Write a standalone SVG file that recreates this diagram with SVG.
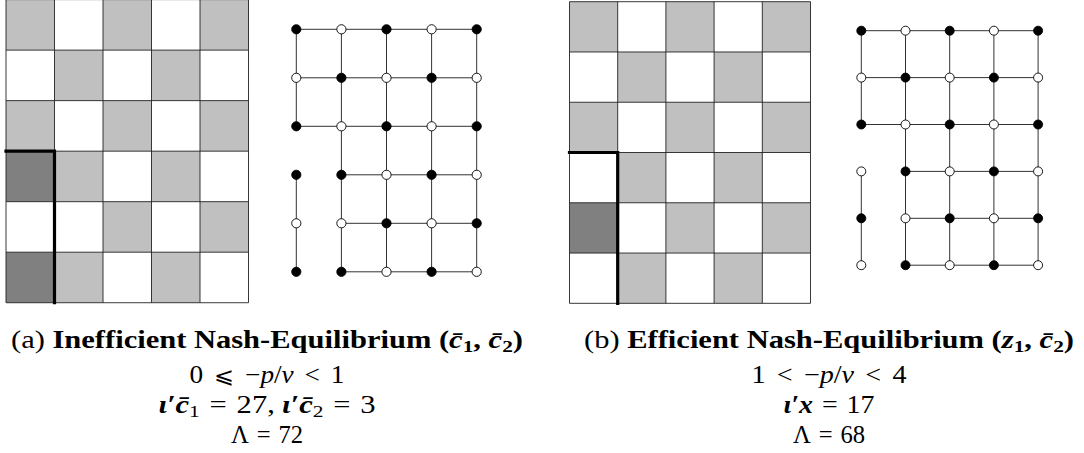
<svg xmlns="http://www.w3.org/2000/svg" width="1084" height="453" viewBox="0 0 1084 453">
<style>
.g{fill:#c0c0c0}
.d{fill:#808080}
.gl{fill:none;stroke:#222;stroke-width:0.9}
.thick{fill:none;stroke:#000;stroke-width:3.2;stroke-linecap:square}
.e{fill:none;stroke:#333;stroke-width:1}
.b{fill:#000;stroke:#000;stroke-width:0.9}
.w{fill:#fff;stroke:#000;stroke-width:0.9}
.t{font-family:"Liberation Serif","DejaVu Serif",serif;font-size:25px;fill:#000}
.bf{font-weight:bold}
.it{font-style:italic}
.bi{font-weight:bold;font-style:italic}
.rel{font-family:"DejaVu Serif","DejaVu Sans",serif;font-weight:normal;font-size:22px}
</style>
<rect width="1084" height="453" fill="#fff"/>

<!-- Left board -->
<g id="board-a" transform="translate(6,-0.4)">
<rect x="0" y="0" width="48.5" height="50.52" class="g"/>
<rect x="97" y="0" width="48.5" height="50.52" class="g"/>
<rect x="194" y="0" width="48.5" height="50.52" class="g"/>
<rect x="48.5" y="50.52" width="48.5" height="50.52" class="g"/>
<rect x="145.5" y="50.52" width="48.5" height="50.52" class="g"/>
<rect x="0" y="101.04" width="48.5" height="50.52" class="g"/>
<rect x="97" y="101.04" width="48.5" height="50.52" class="g"/>
<rect x="194" y="101.04" width="48.5" height="50.52" class="g"/>
<rect x="0" y="151.56" width="48.5" height="50.52" class="d"/>
<rect x="48.5" y="151.56" width="48.5" height="50.52" class="g"/>
<rect x="145.5" y="151.56" width="48.5" height="50.52" class="g"/>
<rect x="97" y="202.08" width="48.5" height="50.52" class="g"/>
<rect x="194" y="202.08" width="48.5" height="50.52" class="g"/>
<rect x="0" y="252.6" width="48.5" height="50.52" class="d"/>
<rect x="48.5" y="252.6" width="48.5" height="50.52" class="g"/>
<rect x="145.5" y="252.6" width="48.5" height="50.52" class="g"/>
<path class="gl" d="M0,0H242.5M0,50.52H242.5M0,101.04H242.5M0,151.56H242.5M0,202.08H242.5M0,252.6H242.5M0,303.12H242.5M0,0V303.12M48.5,0V303.12M97,0V303.12M145.5,0V303.12M194,0V303.12M242.5,0V303.12"/>
<path class="thick" d="M0,151.56H48.5V303.12"/>
</g>

<!-- Right board -->
<g id="board-b" transform="translate(569.5,1.7)">
<rect x="0" y="0" width="48.2" height="50.27" class="g"/>
<rect x="96.4" y="0" width="48.2" height="50.27" class="g"/>
<rect x="192.8" y="0" width="48.2" height="50.27" class="g"/>
<rect x="48.2" y="50.27" width="48.2" height="50.27" class="g"/>
<rect x="144.6" y="50.27" width="48.2" height="50.27" class="g"/>
<rect x="0" y="100.54" width="48.2" height="50.27" class="g"/>
<rect x="96.4" y="100.54" width="48.2" height="50.27" class="g"/>
<rect x="192.8" y="100.54" width="48.2" height="50.27" class="g"/>
<rect x="48.2" y="150.81" width="48.2" height="50.27" class="g"/>
<rect x="144.6" y="150.81" width="48.2" height="50.27" class="g"/>
<rect x="0" y="201.08" width="48.2" height="50.27" class="d"/>
<rect x="96.4" y="201.08" width="48.2" height="50.27" class="g"/>
<rect x="192.8" y="201.08" width="48.2" height="50.27" class="g"/>
<rect x="48.2" y="251.35" width="48.2" height="50.27" class="g"/>
<rect x="144.6" y="251.35" width="48.2" height="50.27" class="g"/>
<path class="gl" d="M0,0H241M0,50.27H241M0,100.54H241M0,150.81H241M0,201.08H241M0,251.35H241M0,301.62H241M0,0V301.62M48.2,0V301.62M96.4,0V301.62M144.6,0V301.62M192.8,0V301.62M241,0V301.62"/>
<path class="thick" d="M0,150.81H48.2V301.62"/>
</g>

<!-- Connectors -->
<g id="connectors">
<path class="e" d="M296.3,29.3H476.7M296.3,77.8H476.7M296.3,126.3H476.7M341.4,174.8H476.7M341.4,223.3H476.7M341.4,271.8H476.7M296.3,29.3V126.3M296.3,174.8V271.8M341.4,29.3V271.8M386.5,29.3V271.8M431.6,29.3V271.8M476.7,29.3V271.8"/>
<path class="e" d="M861.3,30.7H1038.1M861.3,77.6H1038.1M861.3,124.5H1038.1M905.5,171.4H1038.1M905.5,218.3H1038.1M905.5,265.2H1038.1M861.3,30.7V124.5M861.3,171.4V265.2M905.5,30.7V265.2M949.7,30.7V265.2M993.9,30.7V265.2M1038.1,30.7V265.2"/>
</g>

<!-- Left graph nodes -->
<g id="graph-a">
<g id="a00"><circle cx="296.3" cy="29.3" r="4.6" class="b"/></g>
<g id="a01"><circle cx="341.4" cy="29.3" r="4.6" class="w"/></g>
<g id="a02"><circle cx="386.5" cy="29.3" r="4.6" class="b"/></g>
<g id="a03"><circle cx="431.6" cy="29.3" r="4.6" class="w"/></g>
<g id="a04"><circle cx="476.7" cy="29.3" r="4.6" class="b"/></g>
<g id="a10"><circle cx="296.3" cy="77.8" r="4.6" class="w"/></g>
<g id="a11"><circle cx="341.4" cy="77.8" r="4.6" class="b"/></g>
<g id="a12"><circle cx="386.5" cy="77.8" r="4.6" class="w"/></g>
<g id="a13"><circle cx="431.6" cy="77.8" r="4.6" class="b"/></g>
<g id="a14"><circle cx="476.7" cy="77.8" r="4.6" class="w"/></g>
<g id="a20"><circle cx="296.3" cy="126.3" r="4.6" class="b"/></g>
<g id="a21"><circle cx="341.4" cy="126.3" r="4.6" class="w"/></g>
<g id="a22"><circle cx="386.5" cy="126.3" r="4.6" class="b"/></g>
<g id="a23"><circle cx="431.6" cy="126.3" r="4.6" class="w"/></g>
<g id="a24"><circle cx="476.7" cy="126.3" r="4.6" class="b"/></g>
<g id="a30"><circle cx="296.3" cy="174.8" r="4.6" class="b"/></g>
<g id="a31"><circle cx="341.4" cy="174.8" r="4.6" class="b"/></g>
<g id="a32"><circle cx="386.5" cy="174.8" r="4.6" class="w"/></g>
<g id="a33"><circle cx="431.6" cy="174.8" r="4.6" class="b"/></g>
<g id="a34"><circle cx="476.7" cy="174.8" r="4.6" class="w"/></g>
<g id="a40"><circle cx="296.3" cy="223.3" r="4.6" class="w"/></g>
<g id="a41"><circle cx="341.4" cy="223.3" r="4.6" class="w"/></g>
<g id="a42"><circle cx="386.5" cy="223.3" r="4.6" class="b"/></g>
<g id="a43"><circle cx="431.6" cy="223.3" r="4.6" class="w"/></g>
<g id="a44"><circle cx="476.7" cy="223.3" r="4.6" class="b"/></g>
<g id="a50"><circle cx="296.3" cy="271.8" r="4.6" class="b"/></g>
<g id="a51"><circle cx="341.4" cy="271.8" r="4.6" class="b"/></g>
<g id="a52"><circle cx="386.5" cy="271.8" r="4.6" class="w"/></g>
<g id="a53"><circle cx="431.6" cy="271.8" r="4.6" class="b"/></g>
<g id="a54"><circle cx="476.7" cy="271.8" r="4.6" class="w"/></g>
</g>

<!-- Right graph nodes -->
<g id="graph-b">
<g id="b00"><circle cx="861.3" cy="30.7" r="4.5" class="b"/></g>
<g id="b01"><circle cx="905.5" cy="30.7" r="4.5" class="w"/></g>
<g id="b02"><circle cx="949.7" cy="30.7" r="4.5" class="b"/></g>
<g id="b03"><circle cx="993.9" cy="30.7" r="4.5" class="w"/></g>
<g id="b04"><circle cx="1038.1" cy="30.7" r="4.5" class="b"/></g>
<g id="b10"><circle cx="861.3" cy="77.6" r="4.5" class="w"/></g>
<g id="b11"><circle cx="905.5" cy="77.6" r="4.5" class="b"/></g>
<g id="b12"><circle cx="949.7" cy="77.6" r="4.5" class="w"/></g>
<g id="b13"><circle cx="993.9" cy="77.6" r="4.5" class="b"/></g>
<g id="b14"><circle cx="1038.1" cy="77.6" r="4.5" class="w"/></g>
<g id="b20"><circle cx="861.3" cy="124.5" r="4.5" class="b"/></g>
<g id="b21"><circle cx="905.5" cy="124.5" r="4.5" class="w"/></g>
<g id="b22"><circle cx="949.7" cy="124.5" r="4.5" class="b"/></g>
<g id="b23"><circle cx="993.9" cy="124.5" r="4.5" class="w"/></g>
<g id="b24"><circle cx="1038.1" cy="124.5" r="4.5" class="b"/></g>
<g id="b30"><circle cx="861.3" cy="171.4" r="4.5" class="w"/></g>
<g id="b31"><circle cx="905.5" cy="171.4" r="4.5" class="b"/></g>
<g id="b32"><circle cx="949.7" cy="171.4" r="4.5" class="w"/></g>
<g id="b33"><circle cx="993.9" cy="171.4" r="4.5" class="b"/></g>
<g id="b34"><circle cx="1038.1" cy="171.4" r="4.5" class="w"/></g>
<g id="b40"><circle cx="861.3" cy="218.3" r="4.5" class="b"/></g>
<g id="b41"><circle cx="905.5" cy="218.3" r="4.5" class="w"/></g>
<g id="b42"><circle cx="949.7" cy="218.3" r="4.5" class="b"/></g>
<g id="b43"><circle cx="993.9" cy="218.3" r="4.5" class="w"/></g>
<g id="b44"><circle cx="1038.1" cy="218.3" r="4.5" class="b"/></g>
<g id="b50"><circle cx="861.3" cy="265.2" r="4.5" class="w"/></g>
<g id="b51"><circle cx="905.5" cy="265.2" r="4.5" class="b"/></g>
<g id="b52"><circle cx="949.7" cy="265.2" r="4.5" class="w"/></g>
<g id="b53"><circle cx="993.9" cy="265.2" r="4.5" class="b"/></g>
<g id="b54"><circle cx="1038.1" cy="265.2" r="4.5" class="w"/></g>
</g>

<!-- Captions -->
<g id="caption-a" class="t" text-anchor="middle">
<text x="267" y="348" textLength="512" lengthAdjust="spacingAndGlyphs">(a) <tspan class="bf">Inefficient Nash-Equilibrium (<tspan class="bi">c̄</tspan><tspan font-size="17.5" dy="4">1</tspan><tspan dy="-4">, </tspan><tspan class="bi">c̄</tspan><tspan font-size="17.5" dy="4">2</tspan><tspan dy="-4">)</tspan></tspan></text>
<text x="267" y="382.5" textLength="155" lengthAdjust="spacingAndGlyphs">0<tspan dx="10" class="rel">⩽</tspan><tspan dx="10">−</tspan><tspan class="it">p</tspan>/<tspan class="it">v</tspan><tspan dx="10">&lt;</tspan><tspan dx="10">1</tspan></text>
<text x="267" y="412.5" textLength="217" lengthAdjust="spacingAndGlyphs"><tspan class="bi">ι′c̄</tspan><tspan font-size="17.5" dy="4">1</tspan><tspan dy="-4" dx="8">=</tspan><tspan dx="8">27,</tspan><tspan dx="6" class="bi">ι′c̄</tspan><tspan font-size="17.5" dy="4">2</tspan><tspan dy="-4" dx="8">=</tspan><tspan dx="8">3</tspan></text>
<text x="267" y="443" textLength="72" lengthAdjust="spacingAndGlyphs">Λ<tspan dx="8">=</tspan><tspan dx="8">72</tspan></text>
</g>
<g id="caption-b" class="t" text-anchor="middle">
<text x="829" y="348" textLength="490" lengthAdjust="spacingAndGlyphs">(b) <tspan class="bf">Efficient Nash-Equilibrium (<tspan class="bi">z</tspan><tspan font-size="17.5" dy="4">1</tspan><tspan dy="-4">, </tspan><tspan class="bi">c̄</tspan><tspan font-size="17.5" dy="4">2</tspan><tspan dy="-4">)</tspan></tspan></text>
<text x="829" y="382.5" textLength="155" lengthAdjust="spacingAndGlyphs">1<tspan dx="10">&lt;</tspan><tspan dx="10">−</tspan><tspan class="it">p</tspan>/<tspan class="it">v</tspan><tspan dx="10">&lt;</tspan><tspan dx="10">4</tspan></text>
<text x="829" y="412.5" textLength="91" lengthAdjust="spacingAndGlyphs"><tspan class="bi">ι′x</tspan><tspan dx="8">=</tspan><tspan dx="8">17</tspan></text>
<text x="829" y="443" textLength="72" lengthAdjust="spacingAndGlyphs">Λ<tspan dx="8">=</tspan><tspan dx="8">68</tspan></text>
</g>
</svg>
